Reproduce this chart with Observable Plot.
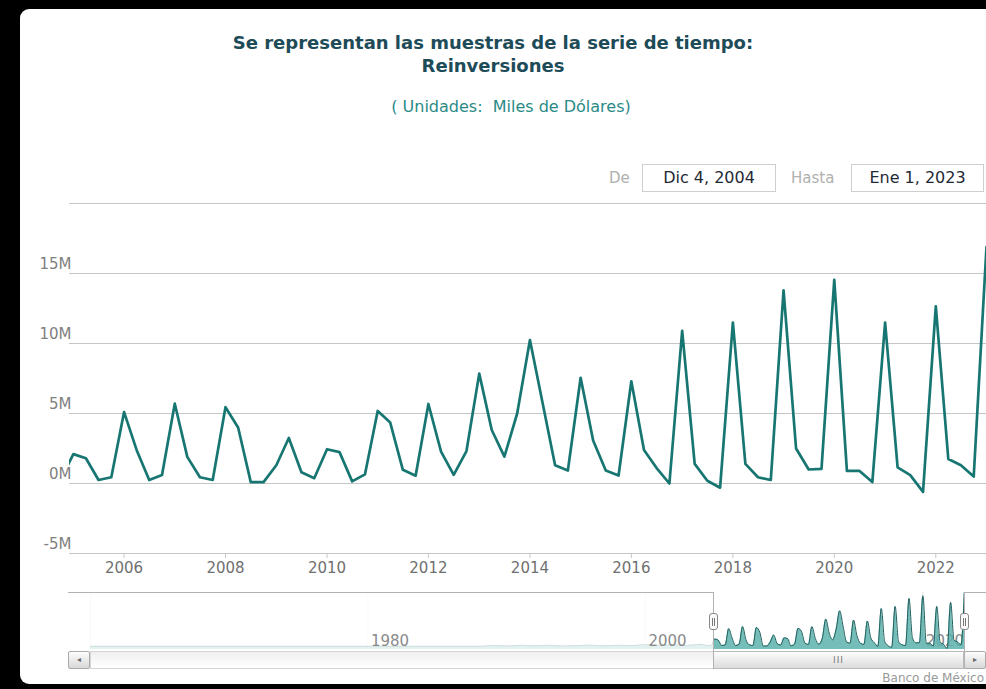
<!DOCTYPE html>
<html>
<head>
<meta charset="utf-8">
<script src="https://cdn.jsdelivr.net/npm/d3@7"></script>
<script src="https://cdn.jsdelivr.net/npm/@observablehq/plot@0.6"></script>
<style>
  html, body { margin: 0; padding: 0; background: #000; }
  #root { position: relative; width: 986px; height: 689px; overflow: hidden; background: #000; font-family: "DejaVu Sans", sans-serif; }
  #panel { position: absolute; left: 20px; top: 9px; width: 1000px; height: 675px; background: #fff; border-radius: 9px 0 0 9px; }
  .abs { position: absolute; }
  .title { left: 0; width: 986px; text-align: center; color: #1d4b57; font-weight: bold; font-size: 18px; line-height: 23px; }
  .sub { color: #2a8a86; font-size: 16px; white-space: pre; text-align: center; }
  .lbl { color: #b0b0b0; font-size: 15px; }
  .box { border: 1px solid #cfcfcf; background: #fff; color: #1f2a36; font-size: 16px; text-align: center; box-sizing: border-box; }
  .credit { color: #999; font-size: 12px; }
</style>
</head>
<body>
<div id="root">
  <div id="panel"></div>
</div>
<script>
// ---------------- DATA ----------------
const chartTitle = ["Se representan las muestras de la serie de tiempo:", "Reinversiones"];
const chartSubtitle = "( Unidades:  Miles de Dólares)";
const rangeFromLabel = "Dic 4, 2004";
const rangeToLabel = "Ene 1, 2023";
const rangeFrom = "2004-12-04";
const rangeTo = "2023-01-01";
const navigatorStart = "1960-01-01";
const creditText = "Banco de México";

// Quarterly samples (millions of "miles de dólares")
const quarterDates = [
  "2004-10-01",
  "2005-01-01","2005-04-01","2005-07-01","2005-10-01",
  "2006-01-01","2006-04-01","2006-07-01","2006-10-01",
  "2007-01-01","2007-04-01","2007-07-01","2007-10-01",
  "2008-01-01","2008-04-01","2008-07-01","2008-10-01",
  "2009-01-01","2009-04-01","2009-07-01","2009-10-01",
  "2010-01-01","2010-04-01","2010-07-01","2010-10-01",
  "2011-01-01","2011-04-01","2011-07-01","2011-10-01",
  "2012-01-01","2012-04-01","2012-07-01","2012-10-01",
  "2013-01-01","2013-04-01","2013-07-01","2013-10-01",
  "2014-01-01","2014-04-01","2014-07-01","2014-10-01",
  "2015-01-01","2015-04-01","2015-07-01","2015-10-01",
  "2016-01-01","2016-04-01","2016-07-01","2016-10-01",
  "2017-01-01","2017-04-01","2017-07-01","2017-10-01",
  "2018-01-01","2018-04-01","2018-07-01","2018-10-01",
  "2019-01-01","2019-04-01","2019-07-01","2019-10-01",
  "2020-01-01","2020-04-01","2020-07-01","2020-10-01",
  "2021-01-01","2021-04-01","2021-07-01","2021-10-01",
  "2022-01-01","2022-04-01","2022-07-01","2022-10-01",
  "2023-01-01"
];
const reinversionesM = [
  0.3,
  2.1, 1.8, 0.25, 0.45,
  5.1, 2.4, 0.25, 0.6,
  5.7, 1.9, 0.45, 0.25,
  5.45, 4.0, 0.1, 0.1,
  1.3, 3.25, 0.8, 0.38,
  2.45, 2.24, 0.15, 0.65,
  5.18, 4.35, 0.98, 0.56,
  5.68, 2.28, 0.62, 2.32,
  7.85, 3.82, 1.92, 5.0,
  10.25, 5.8, 1.3, 0.93,
  7.55, 3.07, 0.93, 0.57,
  7.3, 2.4, 1.1, 0.0,
  10.9, 1.4, 0.2, -0.3,
  11.5, 1.4, 0.45, 0.25,
  13.8, 2.5, 1.0, 1.05,
  14.55, 0.9, 0.9, 0.1,
  11.5, 1.15, 0.6, -0.6,
  12.65, 1.75, 1.3, 0.5,
  16.9
];
// Earlier history, visible only in the navigator (estimated, near zero)
const earlyDates = [
  "1960-01-01","1970-01-01","1980-01-01","1988-01-01",
  "1989-01-01","1990-01-01","1991-01-01","1992-01-01","1993-01-01","1994-01-01",
  "1995-01-01","1996-01-01","1997-01-01","1998-01-01","1999-01-01","2000-01-01",
  "2001-01-01","2002-01-01","2003-01-01","2004-01-01","2004-07-01"
];
const earlyValuesM = [
  0, 0, 0, 0,
  0.25, 0.1, 0.3, 0.15, 0.3, 0.1,
  0.2, 0.35, 0.15, 0.3, 0.2, 0.5,
  0.3, 0.45, 0.25, 0.6, 0.2
];

const yGridTicks = [-5, 0, 5, 10, 15, 20];
const yLabelTicks = [-5, 0, 5, 10, 15];
const xTickYears = ["2006","2008","2010","2012","2014","2016","2018","2020","2022"];
const navTickYears = ["1960","1980","2000","2020"];
const navLabelYears = ["1980","2000","2020"];

// ---------------- BUILD ----------------
const parse = d3.utcParse("%Y-%m-%d");
const parseY = d3.utcParse("%Y");
const series = quarterDates.map((d, i) => ({date: parse(d), value: reinversionesM[i]}));
const early = earlyDates.map((d, i) => ({date: parse(d), value: earlyValuesM[i]}));
const navData = early.concat(series);
const viewStart = parse(rangeFrom);
const viewEnd = parse(rangeTo);
const navStart = parse(navigatorStart);

const root = document.getElementById("root");
function add(html, cls, style) {
  const el = document.createElement("div");
  el.className = "abs " + (cls || "");
  el.innerHTML = html;
  Object.assign(el.style, style || {});
  root.appendChild(el);
  return el;
}

// Titles
add(chartTitle.join("<br>"), "title", {top: "31px"});
add(chartSubtitle, "sub", {left: "211px", width: "600px", top: "97px", lineHeight: "20px"});

// Range inputs
add("De", "lbl", {left: "609px", top: "169px", lineHeight: "18px"});
add(rangeFromLabel, "box", {left: "642px", top: "164px", width: "134px", height: "28px", lineHeight: "26px"});
add("Hasta", "lbl", {left: "791px", top: "169px", lineHeight: "18px"});
add(rangeToLabel, "box", {left: "851px", top: "164px", width: "133px", height: "28px", lineHeight: "26px"});

// Main chart
const main = Plot.plot({
  width: 986,
  height: 395,
  marginLeft: 69,
  marginRight: 0,
  marginTop: 13,
  marginBottom: 32,
  style: {fontFamily: "DejaVu Sans, sans-serif", fontSize: "15px", background: "transparent", overflow: "visible"},
  x: {type: "utc", domain: [viewStart, viewEnd]},
  y: {domain: [-5, 20]},
  marks: [
    Plot.gridY(yGridTicks, {stroke: "#c6c6c6", strokeOpacity: 1}),
    Plot.axisY(yLabelTicks, {tickSize: 0, tickPadding: -2, dy: -9, tickFormat: d => d + "M", fill: "#808080", label: null, fontSize: 15}),
    Plot.axisX(xTickYears.map(parseY), {tickSize: 5, tickPadding: 4, stroke: "#c6c6c6", fill: "#707070", tickFormat: d3.utcFormat("%Y"), label: null, fontSize: 15}),
    Plot.line(series, {x: "date", y: "value", stroke: "#187672", strokeWidth: 2.7, clip: true})
  ]
});
main.style.position = "absolute";
main.style.left = "0px";
main.style.top = "190px";
root.appendChild(main);

// Navigator
const navLabels = navLabelYears.map(parseY);
const nav = Plot.plot({
  width: 986,
  height: 66,
  marginLeft: 90,
  marginRight: 22,
  marginTop: 7,
  marginBottom: 2,
  style: {fontFamily: "DejaVu Sans, sans-serif", fontSize: "14px", background: "transparent", overflow: "visible"},
  x: {type: "utc", domain: [navStart, viewEnd], axis: null},
  y: {domain: [-0.9, 15.5], axis: null},
  marks: [
    Plot.gridX(navTickYears.map(parseY), {stroke: "#e2e2e2", strokeOpacity: 1}),
    Plot.text(navLabels.filter(d => d >= viewStart), {x: d => d, text: d3.utcFormat("%Y"), frameAnchor: "bottom", textAnchor: "start", dx: 3, dy: -4, fill: "#888", fontSize: 15}),
    Plot.areaY(navData, {x: "date", y1: -0.9, y2: "value", fill: "#5db1ad", fillOpacity: 0.85, curve: "monotone-x", clip: true}),
    Plot.line(navData, {x: "date", y: "value", stroke: "#1d5e5c", strokeWidth: 1, curve: "monotone-x", clip: true}),
    Plot.rect([{a: navStart, b: viewStart}], {x1: "a", x2: "b", fill: "#fff", fillOpacity: 0.8}),
    Plot.text(navLabels.filter(d => d < viewStart), {x: d => d, text: d3.utcFormat("%Y"), frameAnchor: "bottom", textAnchor: "start", dx: 3, dy: -4, fill: "#8a8a8a", fontSize: 15})
  ]
});
nav.style.position = "absolute";
nav.style.left = "0px";
nav.style.top = "585px";
root.appendChild(nav);

const nx = nav.scale("x");
const h1 = Math.round(nx.apply(viewStart));
const h2 = Math.round(nx.apply(viewEnd));
const navTop = 592, scTop = 651, scH = 18, scBottom = scTop + scH;
const line = "#b2b2b2";

// Scrollbar track
add("", "", {left: "90px", top: scTop + "px", width: (h2 - 90) + "px", height: scH + "px", boxSizing: "border-box",
  border: "1px solid #d6d6d6", background: "linear-gradient(#efefef, #fff)"});
// Scrollbar thumb
add("<span style='letter-spacing:1px'>III</span>", "", {left: h1 + "px", top: scTop + "px", width: (h2 - h1) + "px", height: scH + "px", boxSizing: "border-box",
  border: "1px solid #bbb", background: "linear-gradient(#fdfdfd, #dcdcdc)", color: "#777", fontSize: "9px", textAlign: "center", lineHeight: (scH - 2) + "px"});
// Buttons
add("&#9666;", "", {left: "68px", top: scTop + "px", width: "22px", height: scH + "px", boxSizing: "border-box",
  border: "1px solid #aaa", borderRadius: "2px", background: "linear-gradient(#fdfdfd, #d8d8d8)", color: "#666", fontSize: "8px", textAlign: "center", lineHeight: (scH - 2) + "px"});
add("&#9656;", "", {left: h2 + "px", top: scTop + "px", width: "22px", height: scH + "px", boxSizing: "border-box",
  border: "1px solid #aaa", borderRadius: "2px", background: "linear-gradient(#fdfdfd, #d8d8d8)", color: "#666", fontSize: "8px", textAlign: "center", lineHeight: (scH - 2) + "px"});

// Navigator outline
add("", "", {left: "68px", top: navTop + "px", width: (h1 - 68) + "px", height: "1px", background: line});
add("", "", {left: h1 + "px", top: navTop + "px", width: "1px", height: (scBottom - navTop) + "px", background: line});
add("", "", {left: h2 + "px", top: navTop + "px", width: "1px", height: (scBottom - navTop) + "px", background: line});
add("", "", {left: h2 + "px", top: navTop + "px", width: (986 - h2) + "px", height: "1px", background: line});

// Handles
function handle(x) {
  add("<div style='position:absolute;left:2px;top:4px;width:1px;height:8px;background:#777'></div><div style='position:absolute;left:4px;top:4px;width:1px;height:8px;background:#777'></div>",
    "", {left: (x - 4) + "px", top: "613px", width: "9px", height: "17px", boxSizing: "border-box",
    border: "1px solid #888", borderRadius: "3px", background: "#fafafa"});
}
handle(h1);
handle(h2);

// Credit
add(creditText, "credit", {right: "2px", top: "671px", lineHeight: "14px"});
</script>
</body>
</html>
